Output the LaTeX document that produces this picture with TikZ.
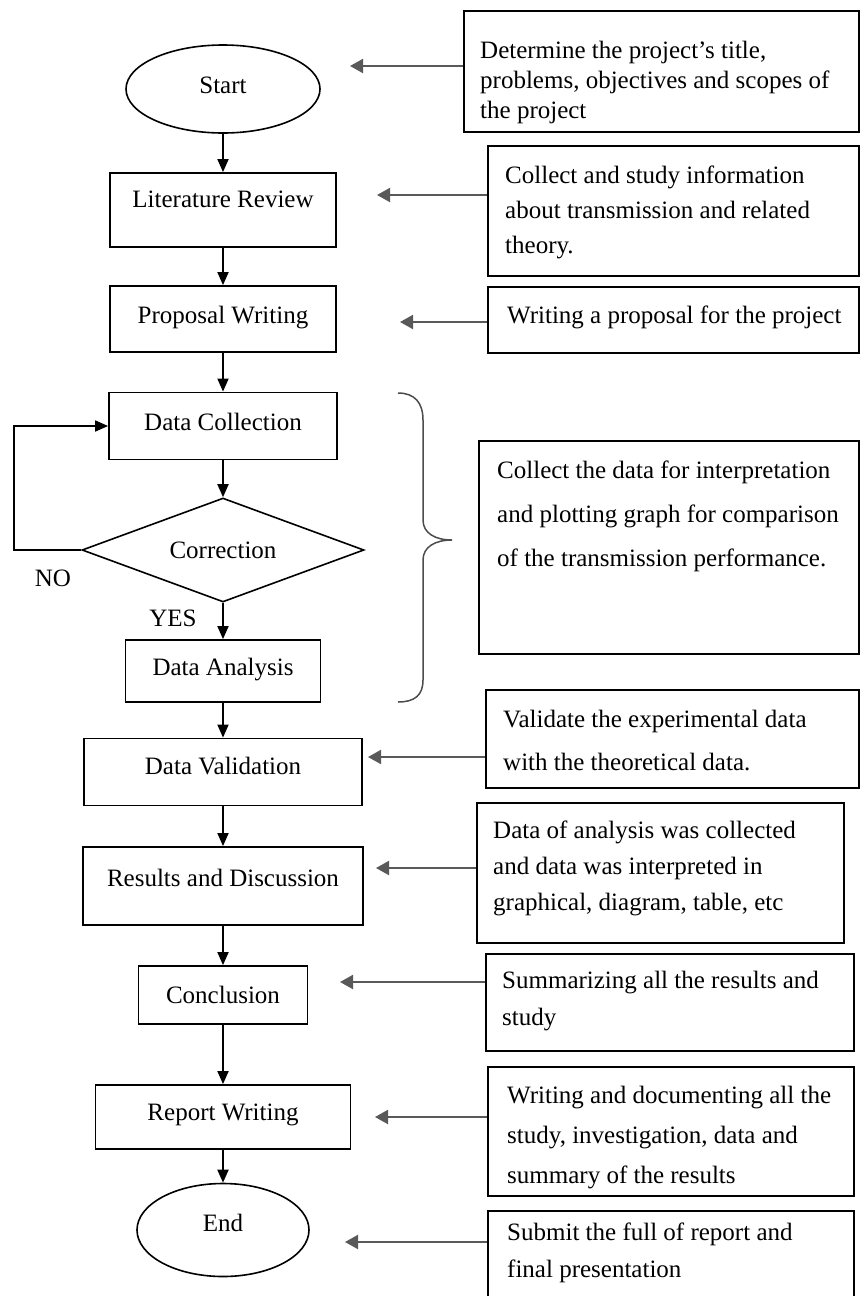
\documentclass[tikz,border=0pt]{standalone}
\usepackage{fontspec}
\setmainfont{Liberation Serif}
\usetikzlibrary{shapes.geometric,arrows.meta}
\begin{document}
\begin{tikzpicture}[x=1pt,y=-1pt,
  every node/.style={font=\fontsize{25}{30}\selectfont},
  proc/.style={draw,rectangle,line width=1.8pt,inner sep=0pt},
  term/.style={draw,ellipse,line width=1.6pt,inner sep=0pt},
  dec/.style={draw,diamond,aspect=2.7,line width=1.6pt,inner sep=0pt},
  rbox/.style={draw,rectangle,line width=1.8pt,inner sep=0pt,anchor=north west},
  txt/.style={inner sep=0pt,align=left,anchor=north west},
  farr/.style={line width=1.8pt,-{Triangle[length=13pt,width=11pt]}},
  garr/.style={line width=2pt,draw=black!65,-{Triangle[length=13pt,width=14pt]}},
  brc/.style={line width=1.5pt,draw=black!70}]
\useasboundingbox (0,0) rectangle (860,1296);

% main flow
\node[term,minimum width=194pt,minimum height=88pt,text depth=7pt] (st) at (223,89) {Start};
\node[proc,minimum width=226pt,minimum height=74pt,text depth=21pt] (lit) at (223,210) {Literature Review};
\node[proc,minimum width=226pt,minimum height=66pt,text depth=9pt] (prop) at (223,319) {Proposal Writing};
\node[proc,minimum width=228pt,minimum height=67pt,text depth=9pt] (coll) at (223,426) {Data Collection};
\node[dec,minimum width=282pt,minimum height=104pt] (corr) at (223,550) {Correction};
\node[proc,minimum width=195pt,minimum height=62pt,text depth=9pt] (ana) at (223,671) {Data Analysis};
\node[proc,minimum width=278pt,minimum height=67pt,text depth=12pt] (val) at (223,772) {Data Validation};
\node[proc,minimum width=280pt,minimum height=78pt,text depth=17pt] (res) at (223,886) {Results and Discussion};
\node[proc,minimum width=169pt,minimum height=58pt] (conc) at (223,995) {Conclusion};
\node[proc,minimum width=255pt,minimum height=64pt,text depth=9pt] (rep) at (223,1117) {Report Writing};
\node[term,minimum width=172pt,minimum height=93pt,text depth=15pt] (en) at (223,1230) {End};

\node (no) at (53,578) {NO};
\node (yes) at (173,618) {YES};

\draw[farr] (st) -- (lit);
\draw[farr] (lit) -- (prop);
\draw[farr] (prop) -- (coll);
\draw[farr] (coll) -- (corr);
\draw[farr] (corr) -- (ana);
\draw[farr] (ana) -- (val);
\draw[farr] (val) -- (res);
\draw[farr] (res) -- (conc);
\draw[farr] (conc) -- (rep);
\draw[farr] (rep) -- (en);
\draw[farr] (corr.west) -- ++(-67,0) |- (coll.west);

% brace
\draw[brc] (398,393) .. controls (415,393) and (423,403) .. (423,420) -- (423,520)
  .. controls (423,533) and (435,540) .. (452,540)
  .. controls (435,540) and (423,547) .. (423,560) -- (423,680)
  .. controls (423,695) and (415,702) .. (398,702);

% right boxes
\node[rbox,minimum width=395pt,minimum height=121pt] (b1) at (463,10) {};
\node[rbox,minimum width=371pt,minimum height=130pt] (b2) at (487,145) {};
\node[rbox,minimum width=371pt,minimum height=66pt] (b3) at (487,286) {};
\node[rbox,minimum width=380pt,minimum height=213pt] (b4) at (478,440) {};
\node[rbox,minimum width=373pt,minimum height=98pt] (b5) at (485,689) {};
\node[rbox,minimum width=367pt,minimum height=140pt] (b6) at (476,802) {};
\node[rbox,minimum width=368pt,minimum height=97pt] (b7) at (485,953) {};
\node[rbox,minimum width=366pt,minimum height=129pt] (b8) at (487,1066) {};
\node[rbox,minimum width=366pt,minimum height=100pt] (b9) at (487,1210) {};

\node[txt,font=\fontsize{25}{30}\selectfont] (x1) at (480,40) {\rule{0pt}{18pt}Determine the project’s title,\\problems, objectives and scopes of\\the project};
\node[txt,font=\fontsize{25}{35}\selectfont] (x2) at (505,165) {\rule{0pt}{18pt}Collect and study information\\about transmission and related\\theory.};
\node[txt,font=\fontsize{25}{35}\selectfont] (x3) at (507,305) {\rule{0pt}{18pt}Writing a proposal for the project};
\node[txt,font=\fontsize{25}{44}\selectfont] (x4) at (497,460) {\rule{0pt}{18pt}Collect the data for interpretation\\and plotting graph for comparison\\of the transmission performance.};
\node[txt,font=\fontsize{25}{43}\selectfont] (x5) at (503,709) {\rule{0pt}{18pt}Validate the experimental data\\with the theoretical data.};
\node[txt,font=\fontsize{25}{36}\selectfont] (x6) at (493,820) {\rule{0pt}{18pt}Data of analysis was collected\\and data was interpreted in\\graphical, diagram, table, etc};
\node[txt,font=\fontsize{25}{37}\selectfont] (x7) at (502,970) {\rule{0pt}{18pt}Summarizing all the results and\\study};
\node[txt,font=\fontsize{25}{40}\selectfont] (x8) at (507,1085) {\rule{0pt}{18pt}Writing and documenting all the\\study, investigation, data and\\summary of the results};
\node[txt,font=\fontsize{25}{37}\selectfont] (x9) at (507,1222) {\rule{0pt}{18pt}Submit the full of report and\\final presentation};

% gray arrows
\coordinate (p1) at (350,66);
\coordinate (p2) at (377,195);
\coordinate (p3) at (400,322);
\coordinate (p5) at (368,757);
\coordinate (p6) at (376,868);
\coordinate (p7) at (340,982);
\coordinate (p8) at (375,1117);
\coordinate (p9) at (345,1242);
\draw[garr] (b1.west |- p1) -- (p1);
\draw[garr] (b2.west |- p2) -- (p2);
\draw[garr] (b3.west |- p3) -- (p3);
\draw[garr] (b5.west |- p5) -- (p5);
\draw[garr] (b6.west |- p6) -- (p6);
\draw[garr] (b7.west |- p7) -- (p7);
\draw[garr] (b8.west |- p8) -- (p8);
\draw[garr] (b9.west |- p9) -- (p9);
\end{tikzpicture}
\end{document}
